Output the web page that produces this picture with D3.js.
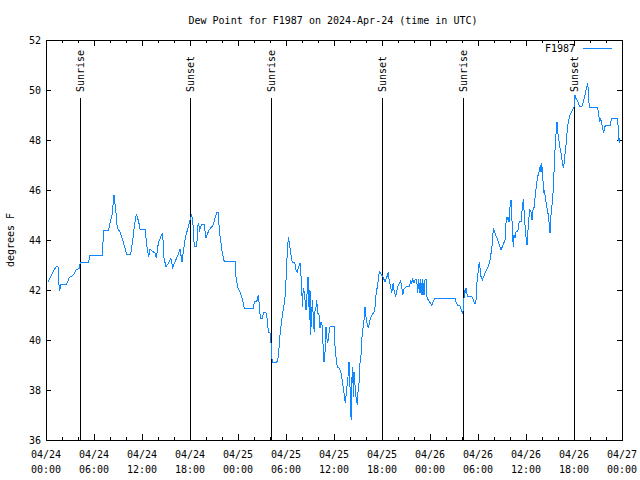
<!DOCTYPE html>
<html><head><meta charset="utf-8">
<script src="https://cdn.jsdelivr.net/npm/d3@7"></script>
<style>
body{margin:0;background:#fff}
svg text{font-family:"DejaVu Sans Mono",monospace;font-size:10px;fill:#000}
</style>
</head><body>
<svg id="chart" width="640" height="480"></svg>
<script>
// Hours since 2024-04-24 00:00 UTC
const hours = [0.29,0.79,1.25,1.5,1.63,1.69,1.88,2.59,2.91,3.41,3.75,4.16,4.29,5.34,5.5,7.09,7.16,7.79,8.0,8.25,8.5,8.75,8.91,9.25,9.59,9.88,10.09,10.59,10.84,11.04,11.29,11.59,11.75,12.38,12.59,12.84,13.0,13.63,13.79,14.04,14.34,14.59,14.71,15.0,15.29,15.59,15.84,16.13,16.41,16.75,17.0,17.21,17.41,17.69,18.0,18.21,18.34,18.54,18.84,18.96,19.04,19.21,19.38,19.54,19.79,19.96,20.13,20.38,20.63,20.91,21.13,21.34,21.54,21.66,21.88,22.04,22.29,23.63,23.75,23.96,24.25,24.46,24.66,24.79,25.91,26.04,26.34,26.54,26.66,26.79,27.04,27.16,27.38,27.54,27.71,27.79,28.0,28.13,28.21,28.34,28.84,29.04,29.25,29.46,29.75,29.88,30.0,30.09,30.21,30.29,30.41,30.59,30.79,31.09,31.25,31.41,31.66,31.75,31.84,31.96,32.04,32.16,32.29,32.38,32.5,32.63,32.75,32.84,32.91,33.0,33.09,33.21,33.34,33.41,33.54,33.63,33.75,33.84,33.96,34.16,34.25,34.38,34.5,34.59,34.66,34.75,34.88,35.0,35.09,35.21,35.34,35.41,35.5,36.04,36.13,36.25,36.41,36.66,36.84,36.96,37.09,37.25,37.41,37.59,37.75,37.88,38.0,38.09,38.16,38.25,38.34,38.41,38.5,38.63,38.75,38.91,39.04,39.16,39.25,39.38,39.46,39.59,39.75,39.88,40.0,40.16,40.29,40.41,40.59,40.75,40.91,41.04,41.16,41.25,41.38,41.54,41.66,41.84,42.09,42.38,42.59,42.79,42.91,43.09,43.21,43.41,43.5,43.71,43.88,44.04,44.34,44.46,44.59,44.75,45.0,45.41,45.59,45.71,45.84,46.0,46.16,46.34,46.46,46.59,46.75,46.84,47.0,47.09,47.25,47.38,47.5,47.59,47.79,48.0,48.21,48.41,48.63,51.13,51.25,51.41,51.75,51.91,52.09,52.21,52.29,52.41,52.5,52.66,53.21,53.41,53.63,53.75,53.88,54.04,54.16,54.25,54.38,54.54,54.71,54.88,55.09,55.29,55.46,55.63,55.79,55.91,56.04,56.21,56.38,56.54,56.71,56.88,57.04,57.21,57.38,57.5,57.63,57.71,57.79,57.88,58.0,58.13,58.21,58.29,58.41,58.5,58.63,58.75,58.96,59.16,59.38,59.46,59.59,59.66,59.75,59.88,60.0,60.13,60.21,60.34,60.46,60.63,60.75,60.88,61.04,61.16,61.34,61.46,61.63,61.79,61.88,61.96,62.09,62.21,62.29,62.38,62.5,62.66,62.79,62.91,63.0,63.09,63.21,63.34,63.46,63.54,63.66,63.79,63.88,63.96,64.09,64.21,64.38,64.54,64.66,64.79,64.91,65.04,65.16,65.29,65.5,65.71,65.91,66.0,66.13,66.21,66.41,66.54,66.75,66.96,67.16,67.38,67.59,67.71,67.79,67.91,68.96,69.09,69.21,69.34,69.46,69.59,69.71,69.84,70.0,70.5,70.71,71.38,71.5,71.59,71.66,71.71];
// Dew point, degrees F
const dewpoint = [42.33,42.67,42.93,42.93,42.2,41.96,42.24,42.24,42.5,42.6,42.8,42.87,43.09,43.12,43.39,43.39,44.37,44.37,44.67,45.0,45.8,45.07,44.47,44.33,44.0,43.67,43.44,43.44,44.0,44.53,45.04,44.73,44.43,44.43,43.8,43.33,43.63,43.47,43.27,43.87,44.13,44.27,43.33,42.93,43.07,43.27,42.91,43.13,43.33,43.63,43.13,43.63,44.07,44.42,44.8,45.0,44.8,43.73,43.73,44.47,44.69,44.4,44.56,44.64,44.64,44.07,44.2,44.4,44.5,44.6,44.87,45.09,45.09,44.4,43.87,43.47,43.13,43.13,42.53,42.11,41.93,41.73,41.47,41.27,41.27,41.53,41.53,41.8,41.4,40.87,40.87,41.07,41.13,41.07,40.67,40.33,40.27,39.87,39.33,39.1,39.1,39.33,40.2,40.8,41.4,41.73,42.4,43.07,43.73,44.1,43.9,43.47,43.1,43.1,42.8,42.73,43.0,43.07,42.67,42.27,41.33,42.07,41.93,41.6,41.2,41.87,42.53,41.9,40.8,42.0,40.2,41.2,41.6,40.73,40.33,41.2,41.33,41.6,41.07,41.0,40.47,40.73,40.6,40.13,39.6,39.13,39.53,40.53,40.13,39.87,40.13,40.4,40.53,40.53,39.73,39.33,38.93,38.87,38.73,38.53,38.27,37.87,37.47,38.07,38.53,39.13,38.13,37.07,36.8,38.53,38.93,37.73,38.73,38.2,37.73,37.4,38.13,38.33,39.07,39.4,40.0,40.4,40.8,41.33,40.93,40.6,40.47,40.67,40.91,41.0,41.07,41.13,41.4,41.8,42.07,42.4,42.73,42.67,42.53,42.33,42.5,42.71,42.33,42.13,41.87,42.29,42.0,41.73,42.0,42.2,42.37,42.13,41.8,42.03,42.13,42.13,42.37,42.27,42.43,42.27,42.43,42.43,41.87,42.43,41.87,42.43,41.8,42.43,41.8,42.43,42.43,41.73,41.6,41.5,41.39,41.53,41.67,41.67,41.53,41.4,41.37,41.2,41.07,41.33,42.0,41.87,42.07,41.76,41.76,41.6,41.43,41.6,42.33,42.8,43.13,42.9,42.53,42.4,42.53,42.67,42.8,42.93,43.13,43.47,43.87,44.44,44.36,44.2,44.07,43.93,43.77,43.6,43.73,43.87,44.0,44.67,44.93,44.8,44.93,44.73,45.33,45.6,45.13,44.4,43.73,44.2,44.07,44.33,44.33,44.73,44.73,45.07,45.4,45.64,45.2,44.6,44.13,43.8,44.2,44.8,45.2,45.13,44.8,45.2,45.33,45.8,46.27,46.53,46.73,47.0,46.73,47.07,46.6,45.87,46.0,45.8,45.53,45.2,45.0,44.6,44.27,44.87,45.27,45.67,46.33,47.07,47.8,48.4,48.73,48.33,48.07,47.73,47.47,47.13,46.87,47.13,47.53,47.93,48.4,48.73,49.0,49.13,49.27,49.33,49.8,49.67,49.6,49.47,49.33,49.33,49.53,49.8,50.13,50.27,50.0,49.31,49.31,49.0,48.73,48.87,48.67,48.47,48.27,48.53,48.57,48.57,48.87,48.87,48.6,48.07,47.87,48.07];

const tickHours = [0,6,12,18,24,30,36,42,48,54,60,66,72];
const tickDates = ["04/24","04/24","04/24","04/24","04/25","04/25","04/25","04/25","04/26","04/26","04/26","04/26","04/27"];
const tickTimes = ["00:00","06:00","12:00","18:00","00:00","06:00","12:00","18:00","00:00","06:00","12:00","18:00","00:00"];
const yTicks = [36,38,40,42,44,46,48,50,52];
const eventHours = [4.3,18.04,28.16,42.04,52.16,66.04];
const eventLabels = ["Sunrise","Sunset","Sunrise","Sunset","Sunrise","Sunset"];
const seriesName = "F1987";
const titleText = "Dew Point for F1987 on 2024-Apr-24 (time in UTC)";
const yLabel = "degrees F";

const L=46, R=622, T=40, B=440;
const svg = d3.select("#chart");
const x = d3.scaleLinear().domain([0,72]).range([L,R]);
const y = d3.scaleLinear().domain([36,52]).range([B,T]);
const minorHours = d3.range(0,73,2).filter(h=>h%6!==0);
const lineColor = "#0f87ff";

function xAxis(axisFn, ty, vals, size){
  const g = svg.append("g").attr("transform",`translate(0,${ty})`)
    .call(axisFn(x).tickValues(vals).tickSizeInner(size).tickSizeOuter(0).tickFormat(()=>""));
  g.select(".domain").remove();
  g.selectAll("line").attr("stroke","#000").attr("shape-rendering","crispEdges");
  g.selectAll("text").remove();
}
xAxis(d3.axisBottom, B, tickHours, -6);
xAxis(d3.axisBottom, B, minorHours, -3);
xAxis(d3.axisTop, T, tickHours, -6);
xAxis(d3.axisTop, T, minorHours, -3);

function yAxis(axisFn, tx, size){
  const g = svg.append("g").attr("transform",`translate(${tx},0)`)
    .call(axisFn(y).tickValues(yTicks).tickSizeInner(size).tickSizeOuter(0).tickFormat(()=>""));
  g.select(".domain").remove();
  g.selectAll("line").attr("stroke","#000").attr("shape-rendering","crispEdges");
  g.selectAll("text").remove();
}
yAxis(d3.axisLeft, L, -5);
yAxis(d3.axisRight, R, -5);

// y labels
svg.append("g").selectAll("text").data(yTicks).join("text")
  .attr("x", L-5).attr("y", d=>y(d)).attr("dy","0.35em")
  .attr("text-anchor","end").text(d=>d);

// x labels
const xl = svg.append("g").selectAll("text").data(tickHours).join("text")
  .attr("text-anchor","middle");
xl.append("tspan").attr("x",d=>x(d)).attr("y",B+18).text((d,i)=>tickDates[i]);
xl.append("tspan").attr("x",d=>x(d)).attr("y",B+33).text((d,i)=>tickTimes[i]);

// frame
svg.append("rect").attr("x",L).attr("y",T).attr("width",R-L).attr("height",B-T)
  .attr("fill","none").attr("stroke","#000").attr("shape-rendering","crispEdges");

// events
const ev = svg.append("g").selectAll("g").data(eventHours).join("g");
ev.append("line").attr("x1",d=>Math.round(x(d))+0.5).attr("x2",d=>Math.round(x(d))+0.5)
  .attr("y1",98).attr("y2",B).attr("stroke","#000").attr("shape-rendering","crispEdges");
ev.append("text").attr("transform",d=>`translate(${Math.round(x(d))+0.5},92) rotate(-90)`)
  .attr("dy","0.35em").attr("text-anchor","start").text((d,i)=>eventLabels[i]);

// data line
const line = d3.line().x((d,i)=>x(hours[i])).y(d=>y(d));
svg.append("path").datum(dewpoint).attr("d",line)
  .attr("fill","none").attr("stroke",lineColor).attr("stroke-width",1)
  .attr("shape-rendering","crispEdges");

// title
svg.append("text").attr("x",333).attr("y",24).attr("text-anchor","middle").text(titleText);
// y label
svg.append("text").attr("transform",`translate(10,${(T+B)/2}) rotate(-90)`)
  .attr("dy","0.35em").attr("text-anchor","middle").text(yLabel);
// legend
svg.append("text").attr("x",575).attr("y",48).attr("dy","0.35em").attr("text-anchor","end").text(seriesName);
svg.append("line").attr("x1",583).attr("x2",612).attr("y1",48.5).attr("y2",48.5)
  .attr("stroke",lineColor).attr("shape-rendering","crispEdges");
</script>
</body></html>
